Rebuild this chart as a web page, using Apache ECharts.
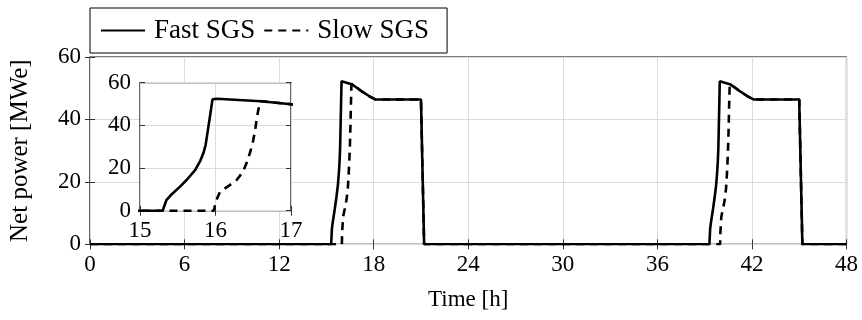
<!DOCTYPE html>
<html>
<head>
<meta charset="utf-8">
<script src="https://cdn.jsdelivr.net/npm/echarts@6/dist/echarts.min.js"></script>
<style>
  html, body { margin: 0; padding: 0; background: #fff; }
  #chart { width: 862px; height: 320px; }
</style>
</head>
<body>
<div id="chart"></div>
<script>
// time [h] and net power [MWe]
const fastTime = [0, 15.30, 15.35, 15.40, 15.53, 15.62, 15.73, 15.80, 15.84, 15.87, 15.90, 15.93, 15.96, 16.02,
  16.60, 17.00, 17.30, 17.70, 18.10, 21.00, 21.20,
  39.30, 39.35, 39.40, 39.53, 39.62, 39.73, 39.80, 39.84, 39.87, 39.90, 39.93, 39.96, 40.02,
  40.60, 41.00, 41.30, 41.70, 42.10, 45.00, 45.20, 48]
const fastPower = [0, 0, 5, 7, 11.3, 14.5, 19, 23.5, 27, 31, 38, 45, 52.2, 52.5,
  51.3, 49.9, 48.8, 47.5, 46.4, 46.4, 0,
  0, 5, 7, 11.3, 14.5, 19, 23.5, 27, 31, 38, 45, 52.2, 52.5,
  51.3, 49.9, 48.8, 47.5, 46.4, 46.4, 0, 0]

const slowTime = [0, 15.98, 16.00, 16.06, 16.17, 16.28, 16.36, 16.41, 16.46, 16.50, 16.53, 16.55, 16.59,
  17.00, 17.30, 17.70, 18.10, 21.00, 21.20,
  39.98, 40.00, 40.06, 40.17, 40.28, 40.36, 40.41, 40.46, 40.50, 40.53, 40.55, 40.59,
  41.00, 41.30, 41.70, 42.10, 45.00, 45.20, 48]
const slowPower = [0, 0, 4, 8.9, 11.5, 14.4, 18, 22.2, 27.5, 33, 39, 44, 51.4,
  49.9, 48.8, 47.5, 46.4, 46.4, 0,
  0, 4, 8.9, 11.5, 14.4, 18, 22.2, 27.5, 33, 39, 44, 51.4,
  49.9, 48.8, 47.5, 46.4, 46.4, 0, 0]

const seriesNames = ['Fast SGS', 'Slow SGS']

function pairs(xs, ys) {
  return xs.map((x, i) => [x, ys[i]])
}

const font = 'Liberation Serif'
const gridColor = '#dcdcdc'
const lineW = 2.6
const dash = [8, 6]
const tickStyle = { show: true, inside: true, length: 5, lineStyle: { color: '#333', width: 1 } }

function axisBase(extra) {
  return Object.assign({
    type: 'value',
    axisLine: { show: false },
    axisTick: tickStyle,
    axisLabel: { fontFamily: font, fontSize: 23, color: '#000', margin: 9 },
    splitLine: { show: true, lineStyle: { color: gridColor, width: 1 } }
  }, extra)
}

function mirror(extra) {
  return Object.assign({
    type: 'value',
    axisLine: { show: false },
    axisTick: tickStyle,
    axisLabel: { show: false },
    splitLine: { show: false }
  }, extra)
}

const chart = echarts.init(document.getElementById('chart'))

const opt = {
  animation: false,
  backgroundColor: '#fff',
  legend: {
    data: seriesNames,
    left: 90,
    top: 8,
    orient: 'horizontal',
    borderColor: '#000',
    borderWidth: 1,
    padding: [9, 18, 9, 10],
    itemWidth: 44,
    itemHeight: 16,
    itemGap: 8,
    itemStyle: { color: 'rgba(0,0,0,0)', borderWidth: 0 },
    textStyle: { fontFamily: font, fontSize: 27, color: '#000', padding: [0, 0, 0, 4] }
  },
  grid: [{
    left: 89.5,
    right: 15.5,
    top: 57,
    bottom: 75.7,
    show: true,
    borderColor: '#000',
    borderWidth: 1.2,
    backgroundColor: '#fff',
    z: 0
  }, {
    left: 140,
    right: 571,
    top: 82.7,
    bottom: 109.3,
    show: true,
    borderColor: '#000',
    borderWidth: 1.2,
    backgroundColor: '#fff',
    z: 5
  }],
  xAxis: [
    axisBase({
      gridIndex: 0, min: 0, max: 48, interval: 6, z: 1,
      name: 'Time [h]',
      nameLocation: 'middle',
      nameGap: 44,
      nameTextStyle: { fontFamily: font, fontSize: 23, color: '#000' }
    }),
    mirror({ gridIndex: 0, min: 0, max: 48, interval: 6, position: 'top', z: 1 }),
    axisBase({ gridIndex: 1, min: 15, max: 17, interval: 1, z: 6 }),
    mirror({ gridIndex: 1, min: 15, max: 17, interval: 1, position: 'top', z: 6 })
  ],
  yAxis: [
    axisBase({
      gridIndex: 0, min: 0, max: 60, interval: 20, z: 1,
      name: 'Net power [MWe]',
      nameLocation: 'middle',
      nameGap: 57,
      nameTextStyle: { fontFamily: font, fontSize: 25, color: '#000' }
    }),
    mirror({ gridIndex: 0, min: 0, max: 60, interval: 20, position: 'right', z: 1 }),
    axisBase({ gridIndex: 1, min: 0, max: 60, interval: 20, z: 6 }),
    mirror({ gridIndex: 1, min: 0, max: 60, interval: 20, position: 'right', z: 6 })
  ],
  series: [{
    name: seriesNames[0],
    type: 'line',
    xAxisIndex: 0,
    yAxisIndex: 0,
    symbol: 'none',
    z: 2,
    lineStyle: { color: '#000', width: lineW },
    itemStyle: { color: '#000' },
    data: pairs(fastTime, fastPower)
  }, {
    name: seriesNames[1],
    type: 'line',
    xAxisIndex: 0,
    yAxisIndex: 0,
    symbol: 'none',
    z: 3,
    lineStyle: { color: '#000', width: lineW, type: dash },
    itemStyle: { color: '#000' },
    data: pairs(slowTime, slowPower)
  }, {
    name: seriesNames[0],
    type: 'line',
    xAxisIndex: 2,
    yAxisIndex: 2,
    symbol: 'none',
    z: 7,
    lineStyle: { color: '#000', width: lineW },
    itemStyle: { color: '#000' },
    data: pairs(fastTime, fastPower)
  }, {
    name: seriesNames[1],
    type: 'line',
    xAxisIndex: 2,
    yAxisIndex: 2,
    symbol: 'none',
    z: 8,
    lineStyle: { color: '#000', width: lineW, type: dash },
    itemStyle: { color: '#000' },
    data: pairs(slowTime, slowPower)
  }]
}

chart.setOption(opt)
</script>
</body>
</html>
